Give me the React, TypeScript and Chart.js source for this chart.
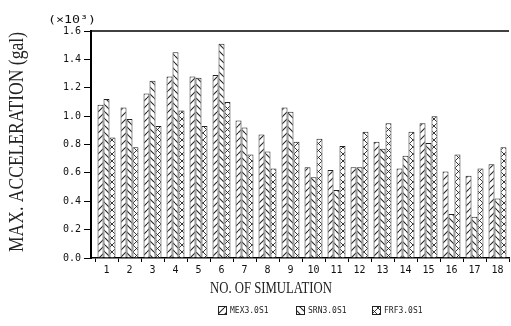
import React, { useEffect, useRef } from "react";
import { Chart, registerables } from "chart.js";

Chart.register(...registerables);

const categories = ["1", "2", "3", "4", "5", "6", "7", "8", "9", "10", "11", "12", "13", "14", "15", "16", "17", "18"];
const seriesNames = ["MEX3.0S1", "SRN3.0S1", "FRF3.0S1"];
const mexValues = [1.08, 1.06, 1.16, 1.28, 1.28, 1.29, 0.97, 0.87, 1.06, 0.64, 0.62, 0.64, 0.82, 0.63, 0.95, 0.61, 0.58, 0.66];
const srnValues = [1.12, 0.98, 1.25, 1.45, 1.27, 1.51, 0.92, 0.75, 1.03, 0.57, 0.48, 0.64, 0.77, 0.72, 0.81, 0.31, 0.29, 0.42];
const frfValues = [0.85, 0.78, 0.93, 1.04, 0.93, 1.10, 0.73, 0.63, 0.82, 0.84, 0.79, 0.89, 0.95, 0.89, 1.00, 0.73, 0.63, 0.78];
const yTickValues = [0, 0.2, 0.4, 0.6, 0.8, 1.0, 1.2, 1.4, 1.6];
const yTitle = "MAX. ACCELERATION (gal)";
const xTitle = "NO. OF SIMULATION";
const yUnit = "(×10³)";

function makePattern(kind: string): CanvasPattern | string {
  const s = 7;
  const c = document.createElement("canvas");
  c.width = s;
  c.height = s;
  const g = c.getContext("2d");
  if (!g) return "#fff";
  g.fillStyle = "#fff";
  g.fillRect(0, 0, s, s);
  g.strokeStyle = "#222";
  g.lineWidth = 1.1;
  const fwd = () => {
    for (let k = -1; k <= 1; k++) {
      g.beginPath();
      g.moveTo(k * s, s);
      g.lineTo(k * s + s, 0);
      g.stroke();
    }
  };
  const back = () => {
    for (let k = -1; k <= 1; k++) {
      g.beginPath();
      g.moveTo(k * s, 0);
      g.lineTo(k * s + s, s);
      g.stroke();
    }
  };
  if (kind === "/") fwd();
  else if (kind === "\\") back();
  else {
    g.lineWidth = 0.9;
    fwd();
    back();
  }
  const p = g.createPattern(c, "repeat");
  return p || "#fff";
}

export default function App() {
  const ref = useRef<HTMLCanvasElement | null>(null);

  useEffect(() => {
    const canvas = ref.current;
    if (!canvas) return;
    const patterns = [makePattern("/"), makePattern("\\"), makePattern("x")];
    const seriesValues = [mexValues, srnValues, frfValues];

    const decor = {
      id: "decor",
      afterDraw(chart: any) {
        const ctx = chart.ctx as CanvasRenderingContext2D;
        const a = chart.chartArea;
        ctx.save();
        ctx.strokeStyle = "#000";
        ctx.lineWidth = 1.5;
        ctx.beginPath();
        ctx.moveTo(a.left, a.top);
        ctx.lineTo(a.right, a.top);
        ctx.stroke();

        ctx.fillStyle = "#111";
        ctx.font = '11px "DejaVu Sans Mono"';
        ctx.textAlign = "center";
        ctx.textBaseline = "middle";
        {
          const w = ctx.measureText(yUnit).width;
          ctx.save();
          ctx.translate(72, 20);
          ctx.scale(48 / w, 1);
          ctx.fillText(yUnit, 0, 0);
          ctx.restore();
        }
        ctx.fillStyle = "#222";
        ctx.font = '20px "Liberation Serif"';
        {
          const w = ctx.measureText(yTitle).width;
          ctx.save();
          ctx.translate(18, 142);
          ctx.rotate(-Math.PI / 2);
          ctx.scale(220 / w, 1);
          ctx.fillText(yTitle, 0, 0);
          ctx.restore();
        }
        ctx.font = '17px "Liberation Serif"';
        {
          const w = ctx.measureText(xTitle).width;
          ctx.save();
          ctx.translate(271, 289);
          ctx.scale(122 / w, 1);
          ctx.fillText(xTitle, 0, 0);
          ctx.restore();
        }
        const boxX = [218, 296, 372];
        ctx.font = '8px "DejaVu Sans Mono"';
        ctx.textAlign = "left";
        for (let i = 0; i < seriesNames.length; i++) {
          const bx = boxX[i];
          const by = 306;
          ctx.fillStyle = patterns[i] as any;
          ctx.fillRect(bx, by, 9, 9);
          ctx.strokeStyle = "#222";
          ctx.lineWidth = 1;
          ctx.strokeRect(bx + 0.5, by + 0.5, 8, 8);
          ctx.fillStyle = "#222";
          ctx.fillText(seriesNames[i], bx + 12, by + 5);
        }
        ctx.restore();
      },
    };

    const chart = new Chart(canvas, {
      type: "bar",
      data: {
        datasets: seriesNames.map((name, si) => ({
          label: name,
          data: seriesValues[si].map((v, i) => ({ x: i + 1, y: v })),
          backgroundColor: patterns[si] as any,
          borderColor: "#222",
          borderWidth: 1,
          categoryPercentage: 0.78,
          barPercentage: 1.0,
        })),
      },
      options: {
        animation: false,
        responsive: false,
        devicePixelRatio: 1,
        layout: { padding: { top: 31, right: 2, left: 0, bottom: 0 } },
        plugins: {
          legend: { display: false },
          tooltip: { enabled: false },
        },
        scales: {
          x: {
            type: "linear",
            min: 0.326,
            max: 18.5,
            offset: false,
            grid: { display: true, drawOnChartArea: false, drawTicks: true, tickLength: 4, color: "#000" },
            border: { display: true, color: "#000", width: 1.5 },
            ticks: {
              color: "#111",
              font: { family: "DejaVu Sans Mono", size: 10 },
              padding: 2,
              autoSkip: false,
              maxRotation: 0,
              callback: (v: any) => categories[Math.round(v) - 1] ?? "",
            },
            afterBuildTicks: (s: any) => {
              s.ticks = categories.map((_, i) => ({ value: i + 1 }));
            },
            afterFit: (s: any) => {
              s.height = 68;
            },
          },
          y: {
            min: 0,
            max: 1.6,
            grid: { display: true, drawOnChartArea: false, drawTicks: true, tickLength: 7, color: "#000" },
            border: { display: true, color: "#000", width: 2 },
            ticks: {
              color: "#111",
              font: { family: "DejaVu Sans Mono", size: 10 },
              padding: 3,
              callback: (v: any) => Number(v).toFixed(1),
            },
            afterBuildTicks: (s: any) => {
              s.ticks = yTickValues.map((v) => ({ value: v }));
            },
            afterFit: (s: any) => {
              s.width = 91;
            },
          },
        },
      } as any,
      plugins: [decor],
    });
    return () => chart.destroy();
  }, []);

  return (
    <div style={{ position: "absolute", left: 0, top: 0, width: 511, height: 326, background: "#fff" }}>
      <canvas ref={ref} width={511} height={326} style={{ display: "block" }} />
    </div>
  );
}
